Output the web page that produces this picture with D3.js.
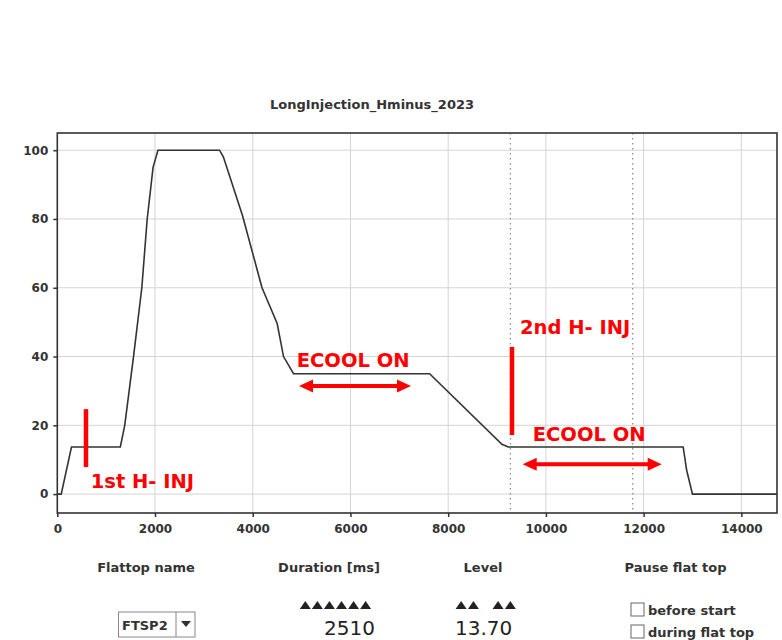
<!DOCTYPE html>
<meta charset="utf-8">
<title>LongInjection_Hminus_2023</title>
<style>
body { margin: 0; background: #fff; }
svg text { font-family: "DejaVu Sans", sans-serif; }
</style>
<body>
<div id="chart"></div>
<script src="https://d3js.org/d3.v7.min.js"></script>
<script>

// ramp profile (time in ms, level in %)
var timeMs = [0, 80, 290, 1290, 1380, 1560, 1730, 1840, 1960, 2060, 3320, 3400, 3790, 4190, 4500, 4630, 4835, 7620, 9100, 9230, 12810, 12880, 13000, 14730];
var level  = [0, 0, 13.7, 13.7, 20, 40, 60, 80, 95, 100, 100, 98, 81, 60, 49.6, 40, 35, 35, 14.5, 13.7, 13.7, 7, 0, 0];

var xTicks = [0, 2000, 4000, 6000, 8000, 10000, 12000, 14000];
var yTicks = [0, 20, 40, 60, 80, 100];
var markerTimes = [9273, 11777];

// red annotations
var injBars = [{x: 587, y0: 7.85, y1: 24.7}, {x: 9306, y0: 17.15, y1: 42.8}];
var injLabels = [{x: 684, y: 1.74, text: "1st H- INJ"}, {x: 9470, y: 46.5, text: "2nd H- INJ"}];
var coolArrows = [{x0: 4947, x1: 7239, y: 31.4}, {x0: 9525, x1: 12370, y: 8.7}];
var coolLabels = [{x: 4900, y: 37.0, text: "ECOOL ON"}, {x: 9730, y: 15.5, text: "ECOOL ON"}];

var headers = ["Flattop name", "Duration [ms]", "Level", "Pause flat top"];
var flattopName = "FTSP2";
var duration = "2510";
var levelValue = "13.70";
var pauseOptions = ["before start", "during flat top"];

var W = 782, H = 640;
var svg = d3.select("#chart").append("svg")
  .attr("width", W).attr("height", H);

var x = d3.scaleLinear().domain([0, 14730]).range([57.3, 777]);
var y = d3.scaleLinear().domain([-5.5, 105]).range([513, 133]);

// title
svg.append("text")
  .attr("x", 270).attr("y", 109)
  .attr("font-size", 13).attr("font-weight", "bold").attr("fill", "#333")
  .text("LongInjection_Hminus_2023");

// grid
svg.append("g").selectAll("line").data(xTicks.slice(1)).enter().append("line")
  .attr("x1", d => x(d)).attr("x2", d => x(d))
  .attr("y1", y.range()[1]).attr("y2", y.range()[0])
  .attr("stroke", "#d4d4d4").attr("stroke-width", 1);
svg.append("g").selectAll("line").data(yTicks).enter().append("line")
  .attr("x1", x.range()[0]).attr("x2", x.range()[1])
  .attr("y1", d => y(d)).attr("y2", d => y(d))
  .attr("stroke", "#d4d4d4").attr("stroke-width", 1);

// dotted markers
svg.append("g").selectAll("line").data(markerTimes).enter().append("line")
  .attr("x1", d => x(d)).attr("x2", d => x(d))
  .attr("y1", y.range()[1]).attr("y2", y.range()[0])
  .attr("stroke", "#888").attr("stroke-width", 1.2)
  .attr("stroke-dasharray", "1.5,3.5");

// axes
var xAxis = svg.append("g")
  .attr("transform", "translate(0," + y.range()[0] + ")")
  .call(d3.axisBottom(x).tickValues(xTicks).tickSize(4).tickPadding(7).tickFormat(d3.format("d")));
var yAxis = svg.append("g")
  .attr("transform", "translate(" + x.range()[0] + ",0)")
  .call(d3.axisLeft(y).tickValues(yTicks).tickSize(4).tickPadding(5));
[xAxis, yAxis].forEach(function (g) {
  g.select(".domain").remove();
  g.selectAll("line").attr("stroke", "#333").attr("stroke-width", 1.5);
  g.selectAll("text").attr("font-family", "DejaVu Sans").attr("font-size", 12)
    .attr("font-weight", "bold").attr("fill", "#333");
});

// frame
svg.append("rect")
  .attr("x", x.range()[0]).attr("y", y.range()[1])
  .attr("width", x.range()[1] - x.range()[0]).attr("height", y.range()[0] - y.range()[1])
  .attr("fill", "none").attr("stroke", "#333").attr("stroke-width", 1.6);

// profile line
svg.append("path")
  .datum(d3.range(timeMs.length))
  .attr("fill", "none").attr("stroke", "#333").attr("stroke-width", 1.6)
  .attr("d", d3.line().x(i => x(timeMs[i])).y(i => y(level[i])));

// annotations
var red = "#ff0000";
svg.append("g").selectAll("line").data(injBars).enter().append("line")
  .attr("x1", d => x(d.x)).attr("x2", d => x(d.x))
  .attr("y1", d => y(d.y0)).attr("y2", d => y(d.y1))
  .attr("stroke", red).attr("stroke-width", 4.5);

svg.append("g").selectAll("text").data(injLabels.concat(coolLabels)).enter().append("text")
  .attr("x", d => x(d.x)).attr("y", d => y(d.y))
  .attr("font-family", "Open Sans").attr("font-weight", "bold").attr("font-size", 19.5)
  .attr("fill", red).text(d => d.text);

var head = 14, half = 6.5;
svg.append("g").selectAll("path").data(coolArrows).enter().append("path")
  .attr("fill", red)
  .attr("d", function (d) {
    var a = x(d.x0), b = x(d.x1), c = y(d.y);
    return "M" + a + "," + c +
      "L" + (a + head) + "," + (c - half) + "L" + (a + head) + "," + (c - 2) +
      "L" + (b - head) + "," + (c - 2) + "L" + (b - head) + "," + (c - half) +
      "L" + b + "," + c +
      "L" + (b - head) + "," + (c + half) + "L" + (b - head) + "," + (c + 2) +
      "L" + (a + head) + "," + (c + 2) + "L" + (a + head) + "," + (c + half) + "Z";
  });

// control panel below the chart
var headerX = [146, 329, 483, 675.5];
svg.append("g").selectAll("text").data(headers).enter().append("text")
  .attr("x", (d, i) => headerX[i]).attr("y", 572)
  .attr("text-anchor", "middle").attr("font-size", 13).attr("font-weight", "bold")
  .attr("fill", "#333").text(d => d);

// dropdown
var dd = svg.append("g");
dd.append("rect").attr("x", 118.5).attr("y", 612).attr("width", 76.5).attr("height", 25)
  .attr("fill", "#fff").attr("stroke", "#888");
dd.append("line").attr("x1", 176).attr("x2", 176).attr("y1", 612).attr("y2", 637).attr("stroke", "#888");
dd.append("text").attr("x", 122).attr("y", 630).attr("font-size", 13).attr("font-weight", "bold")
  .attr("fill", "#333").text(flattopName);
dd.append("path").attr("d", "M181,621L191,621L186,627Z").attr("fill", "#333");

// step triangles
function triangles(x0, step, slots) {
  svg.append("g").selectAll("path").data(slots).enter().append("path")
    .attr("fill", "#222")
    .attr("d", function (s) {
      var cx = x0 + s * step + step / 2;
      return "M" + (cx - 5.5) + ",609L" + (cx + 5.5) + ",609L" + cx + ",601Z";
    });
}
triangles(299.3, 12.06, [0, 1, 2, 3, 4, 5]);
triangles(455, 12.3, [0, 1, 3, 4]);

svg.append("text").attr("x", 324).attr("y", 635)
  .attr("font-family", "DejaVu Sans Mono").attr("font-size", 20).attr("fill", "#222")
  .text(duration);
svg.append("text").attr("x", 455).attr("y", 635)
  .attr("font-family", "DejaVu Sans Mono").attr("font-size", 20).attr("fill", "#222")
  .text(levelValue);

// pause checkboxes
var cb = svg.append("g").selectAll("g").data(pauseOptions).enter().append("g")
  .attr("transform", (d, i) => "translate(0," + (i * 22) + ")");
cb.append("rect").attr("x", 631).attr("y", 603).attr("width", 13).attr("height", 13)
  .attr("fill", "#fff").attr("stroke", "#666");
cb.append("text").attr("x", 648).attr("y", 614.5).attr("font-size", 13).attr("font-weight", "bold")
  .attr("fill", "#333").text(d => d);

</script>
</body>
